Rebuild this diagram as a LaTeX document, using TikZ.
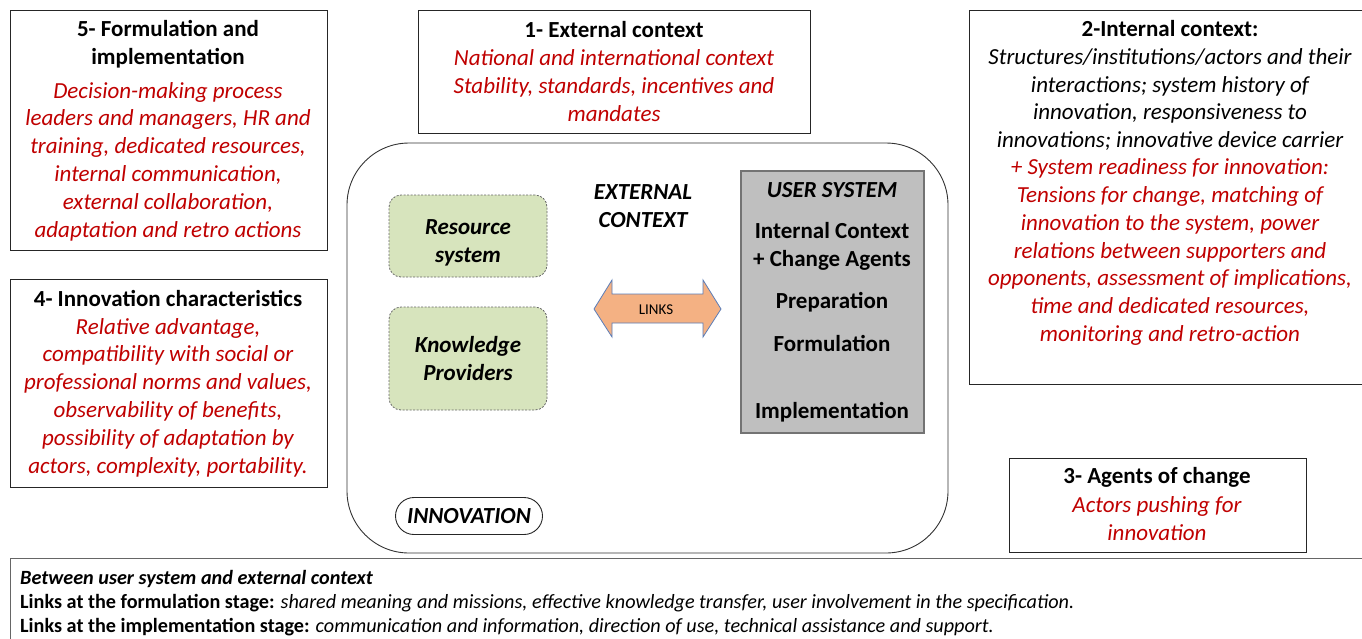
\documentclass[tikz,border=0pt]{standalone}
\usepackage{fontspec}
\setmainfont{Carlito}
\definecolor{myred}{HTML}{C00000}
\definecolor{greenfill}{HTML}{D7E4BD}
\definecolor{grayfill}{HTML}{BFBFBF}
\definecolor{arrowfill}{HTML}{F4B183}
\definecolor{arrowline}{HTML}{5B7DB8}
\tikzset{
  frame/.style={draw=black!85, line width=0.9pt, inner sep=0pt},
  ttl/.style={font=\fontsize{23}{28}\selectfont\bfseries, align=center, inner sep=0pt},
  body/.style={font=\fontsize{23}{27.8}\selectfont\itshape, text=myred, align=center, inner sep=0pt},
  blackbody/.style={font=\fontsize{23}{27.8}\selectfont\itshape, align=center, inner sep=0pt},
  greenbox/.style={draw=black!60, dash pattern=on 2pt off 1.5pt, line width=0.8pt, fill=greenfill, rounded corners=12pt, minimum width=158pt},
  greentext/.style={align=center, inner sep=0pt, font=\fontsize{23}{28}\selectfont\bfseries\itshape},
  usertext/.style={font=\fontsize{23}{28}\selectfont\bfseries, align=center, inner sep=0pt},
  bottomtext/.style={font=\fontsize{20.2}{24}\selectfont, anchor=base west, inner sep=0pt},
}
\begin{document}
\begin{tikzpicture}[x=1pt,y=-1pt]
\path[fill=white, use as bounding box] (0,0) rectangle (1362,638);

% Box 5
\draw[frame] (10,10) rectangle (327,250);
\node[ttl] (t5) at (168,44) {5- Formulation and\\implementation};
\node[body] (b5) at (168,161.5) {Decision-making process\\leaders and managers, HR and\\training, dedicated resources,\\internal communication,\\external collaboration,\\adaptation and retro actions};

% Box 1
\draw[frame] (418,10) rectangle (810,133);
\node[ttl] (t1) at (614,30) {1- External context};
\node[body] (b1) at (614,85.5) {National and international context\\Stability, standards, incentives and\\mandates};

% Box 2
\draw[frame] (969,10) rectangle (1370,384);
\node[ttl] (t2) at (1170,28.5) {2-Internal context:};
\node[blackbody] (k2) at (1170,99.5) {Structures/institutions/actors and their\\interactions; system history of\\innovation, responsiveness to\\innovations; innovative device carrier};
\node[body] (b2) at (1170,252) {+ System readiness for innovation:\\Tensions for change, matching of\\innovation to the system, power\\relations between supporters and\\opponents, assessment of implications,\\time and dedicated resources,\\monitoring and retro-action};

% Box 4
\draw[frame] (10,279) rectangle (327,487);
\node[ttl] (t4) at (168,298.5) {4- Innovation characteristics};
\node[body] (b4) at (168,397.5) {Relative advantage,\\compatibility with social or\\professional norms and values,\\observability of benefits,\\possibility of adaptation by\\actors, complexity, portability.};

% Box 3
\draw[frame] (1009,458) rectangle (1306,552);
\node[ttl] (t3) at (1157,477.5) {3- Agents of change};
\node[body] (b3) at (1157,518.5) {Actors pushing for\\innovation};

% Central rounded frame
\node[draw=black!80, line width=0.9pt, rounded corners=62pt, minimum width=601pt, minimum height=410pt] (outer) at (647.5,348) {};

\node[greenbox, minimum height=82pt] (res) at (468,236) {};
\node[greentext] (restext) at (468,243) {Resource\\system};
\node[greenbox, minimum height=103pt] (know) at (468,358.5) {};
\node[greentext] (knowtext) at (468,358.5) {Knowledge\\Providers};

\node[font=\fontsize{23}{28}\selectfont\bfseries\itshape, align=center, inner sep=0pt] (ext) at (643,206) {EXTERNAL\\CONTEXT};

% Links arrow
\draw[draw=arrowline, line width=0.8pt, fill=arrowfill] (594,309) -- (612,280) -- (612,294) -- (703,294) -- (703,280) -- (721,309) -- (703,337) -- (703,323) -- (612,323) -- (612,337) -- cycle;
\node[font=\fontsize{15}{16}\selectfont, inner sep=0pt] (links) at (656,310) {LINKS};

% User system
\node[draw=black!55, line width=1.2pt, fill=grayfill, minimum width=183pt, minimum height=262pt] (user) at (832.5,302) {};
\node[usertext, font=\fontsize{23}{28}\selectfont\bfseries\itshape] (us1) at (832,190) {USER SYSTEM};
\node[usertext] (us2) at (832,246) {Internal Context\\+ Change Agents};
\node[usertext] (us3) at (832,302) {Preparation};
\node[usertext] (us4) at (832,343) {Formulation};
\node[usertext] (us5) at (832,412) {Implementation};

% Innovation
\node[draw=black!85, line width=0.9pt, rounded corners=18.5pt, minimum width=147pt, minimum height=37pt, font=\fontsize{23}{28}\selectfont\bfseries\itshape, inner sep=0pt] (innov) at (469,516) {INNOVATION};

% Bottom box
\draw[draw=black!60, line width=0.9pt] (1375,558) -- (10,558) -- (10,645);
\node[bottomtext] (l1) at (20,584) {\bfseries\itshape Between user system and external context};
\node[bottomtext] (l2) at (20,608) {\textbf{Links at the formulation stage:} \textit{shared meaning and missions, effective knowledge transfer, user involvement in the specification.}};
\node[bottomtext] (l3) at (20,632) {\textbf{Links at the implementation stage:} \textit{communication and information, direction of use, technical assistance and support.}};
\end{tikzpicture}
\end{document}
